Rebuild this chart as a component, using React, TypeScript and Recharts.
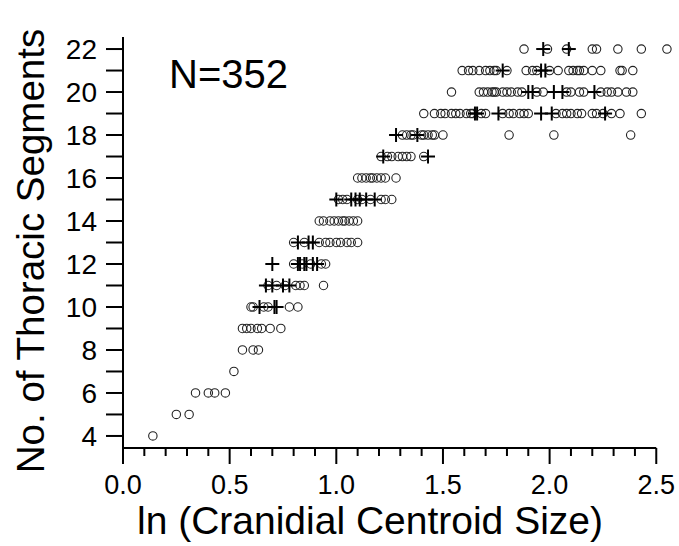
import React from "react";
import { ScatterChart, Scatter, XAxis, YAxis, ReferenceLine, Label } from "recharts";

// ---- data (x = ln cranidial centroid size, grouped by number of thoracic segments) ----
const circles22 = [1.88, 1.99, 2.08, 2.2, 2.22, 2.32, 2.43, 2.55];
const plus22 = [1.97, 2.09];
const circles21 = [1.59, 1.62, 1.64, 1.67, 1.7, 1.72, 1.74, 1.75, 1.8, 1.89, 1.92, 1.94, 2.0, 2.04, 2.09, 2.11, 2.13, 2.14, 2.16, 2.2, 2.24, 2.33, 2.34, 2.39];
const plus21 = [1.78, 1.96, 1.98];
const circles20 = [1.54, 1.67, 1.69, 1.71, 1.73, 1.74, 1.75, 1.78, 1.8, 1.82, 1.85, 1.87, 1.94, 1.97, 2.08, 2.1, 2.14, 2.16, 2.24, 2.27, 2.29, 2.32, 2.36, 2.39];
const plus20 = [1.9, 1.92, 2.02, 2.06, 2.21];
const circles19 = [1.41, 1.46, 1.49, 1.51, 1.54, 1.56, 1.58, 1.61, 1.63, 1.64, 1.68, 1.7, 1.78, 1.81, 1.83, 1.86, 1.88, 1.9, 2.03, 2.06, 2.08, 2.1, 2.13, 2.15, 2.2, 2.22, 2.25, 2.29, 2.33, 2.43];
const plus19 = [1.65, 1.66, 1.76, 1.96, 2.01, 2.26];
const circles18 = [1.31, 1.33, 1.35, 1.36, 1.4, 1.41, 1.43, 1.45, 1.46, 1.5, 1.81, 2.02, 2.38];
const plus18 = [1.28, 1.38];
const circles17 = [1.21, 1.24, 1.26, 1.29, 1.31, 1.33, 1.35, 1.41];
const plus17 = [1.22, 1.43];
const circles16 = [1.1, 1.12, 1.14, 1.16, 1.17, 1.19, 1.21, 1.23, 1.28];
const plus16: number[] = [];
const circles15 = [1.01, 1.03, 1.05, 1.1, 1.12, 1.16, 1.21, 1.23, 1.26];
const plus15 = [1.0, 1.07, 1.09, 1.11, 1.14, 1.18];
const circles14 = [0.92, 0.94, 0.97, 0.99, 1.01, 1.03, 1.04, 1.06, 1.08, 1.1];
const plus14: number[] = [];
const circles13 = [0.8, 0.85, 0.92, 0.95, 0.97, 1.0, 1.02, 1.05, 1.07, 1.1];
const plus13 = [0.82, 0.87, 0.89];
const circles12 = [0.8, 0.84, 0.88, 0.93, 0.95];
const plus12 = [0.7, 0.82, 0.83, 0.85, 0.86, 0.89, 0.91];
const circles11 = [0.68, 0.72, 0.76, 0.81, 0.83, 0.85, 0.94];
const plus11 = [0.67, 0.7, 0.75, 0.78];
const circles10 = [0.6, 0.61, 0.66, 0.68, 0.78, 0.82];
const plus10 = [0.64, 0.71, 0.72];
const circles9 = [0.56, 0.58, 0.6, 0.63, 0.65, 0.69, 0.74];
const circles8 = [0.56, 0.61, 0.635];
const circles7 = [0.52];
const circles6 = [0.34, 0.4, 0.43, 0.48];
const circles5 = [0.25, 0.31];
const circles4 = [0.14];

const circleRows: [number, number[]][] = [
  [22, circles22], [21, circles21], [20, circles20], [19, circles19], [18, circles18],
  [17, circles17], [16, circles16], [15, circles15], [14, circles14], [13, circles13],
  [12, circles12], [11, circles11], [10, circles10], [9, circles9], [8, circles8],
  [7, circles7], [6, circles6], [5, circles5], [4, circles4],
];
const plusRows: [number, number[]][] = [
  [22, plus22], [21, plus21], [20, plus20], [19, plus19], [18, plus18], [17, plus17],
  [16, plus16], [15, plus15], [14, plus14], [13, plus13], [12, plus12], [11, plus11], [10, plus10],
];

const xTicks = [0, 0.1, 0.2, 0.3, 0.4, 0.5, 0.6, 0.7, 0.8, 0.9, 1.0, 1.1, 1.2, 1.3, 1.4, 1.5, 1.6, 1.7, 1.8, 1.9, 2.0, 2.1, 2.2, 2.3, 2.4, 2.5];
const yTicks = [4, 5, 6, 7, 8, 9, 10, 11, 12, 13, 14, 15, 16, 17, 18, 19, 20, 21, 22];

const xTitle = "ln (Cranidial Centroid Size)";
const yTitle = "No. of Thoracic Segments";
const nLabel = "N=352";

const toPoints = (rows: [number, number[]][]) =>
  rows.flatMap(([y, xs]) => xs.map((x) => ({ x, y })));

const circleData = toPoints(circleRows);
const plusData = toPoints(plusRows);

const FONT = "'Liberation Sans', Arial, sans-serif";
const Y_MIN = 3.44;
const Y_MAX = 22.56;

const CircleShape = (p: any) => (
  <circle cx={p.cx} cy={p.cy} r={4.2} fill="none" stroke="#222" strokeWidth={1.1} />
);
const PlusShape = (p: any) => (
  <g stroke="#000" strokeWidth={2}>
    <line x1={p.cx - 7} y1={p.cy} x2={p.cx + 7} y2={p.cy} />
    <line x1={p.cx} y1={p.cy - 7} x2={p.cx} y2={p.cy + 7} />
  </g>
);

const XTick = (p: any) => {
  const v = p.payload.value as number;
  const major = Math.abs(v * 2 - Math.round(v * 2)) < 1e-6;
  return (
    <g>
      <line x1={p.x} y1={p.y} x2={p.x} y2={p.y + (major ? 16 : 8)} stroke="#000" strokeWidth={2} />
      {major && (
        <text x={p.x} y={p.y + 46} textAnchor="middle" fontSize={27} fontFamily={FONT} fill="#000">
          {v.toFixed(1)}
        </text>
      )}
    </g>
  );
};

const YTick = (p: any) => {
  const v = p.payload.value as number;
  return (
    <g>
      <line x1={p.x - 17} y1={p.y} x2={p.x} y2={p.y} stroke="#000" strokeWidth={2} />
      {v % 2 === 0 && (
        <text x={p.x - 26} y={p.y + 10} textAnchor="end" fontSize={28} fontFamily={FONT} fill="#000">
          {v}
        </text>
      )}
    </g>
  );
};

export default function App() {
  return (
    <div style={{ position: "absolute", left: 0, top: 0, background: "#fff" }}>
      <ScatterChart width={679} height={546} margin={{ top: 37, right: 1.4, bottom: 0, left: 0 }}>
        <XAxis
          type="number"
          dataKey="x"
          domain={[0, 2.6]}
          ticks={xTicks}
          interval={0}
          tick={<XTick />}
          tickLine={false}
          tickSize={0}
          tickMargin={0}
          axisLine={false}
          height={98}
        >
          <Label
            content={() => (
              <text x={370} y={534} textAnchor="middle" fontSize={39} fontFamily={FONT} fill="#000">
                {xTitle}
              </text>
            )}
          />
        </XAxis>
        <YAxis
          type="number"
          dataKey="y"
          domain={[Y_MIN, Y_MAX]}
          ticks={yTicks}
          interval={0}
          tick={<YTick />}
          tickLine={false}
          tickSize={0}
          tickMargin={0}
          axisLine={{ stroke: "#000", strokeWidth: 2 }}
          width={123}
        >
          <Label
            content={() => (
              <text
                x={44}
                y={251}
                transform="rotate(-90 44 251)"
                textAnchor="middle"
                fontSize={38.5}
                fontFamily={FONT}
                fill="#000"
              >
                {yTitle}
              </text>
            )}
          />
        </YAxis>
        <ReferenceLine
          segment={[{ x: 0, y: Y_MIN }, { x: 2.5, y: Y_MIN }]}
          stroke="#000"
          strokeWidth={2}
          label={{
            content: () => (
              <text x={169} y={88} fontSize={40} fontFamily={FONT} fill="#000">
                {nLabel}
              </text>
            ),
          }}
        />
        <Scatter data={circleData} shape={CircleShape} isAnimationActive={false} />
        <Scatter data={plusData} shape={PlusShape} isAnimationActive={false} />
      </ScatterChart>
    </div>
  );
}
